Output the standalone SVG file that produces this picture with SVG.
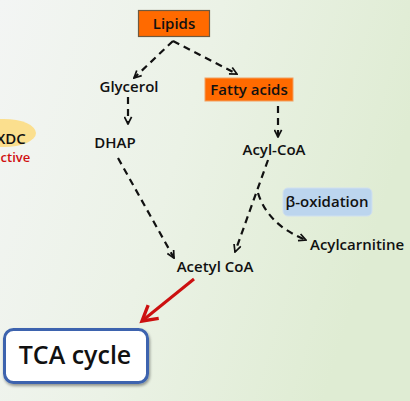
<svg xmlns="http://www.w3.org/2000/svg" width="410" height="401" viewBox="0 0 410 401">
<defs>
<linearGradient id="bg" x1="0" y1="0" x2="1" y2="0.3">
<stop offset="0" stop-color="#F3F5F4"/>
<stop offset="0.5" stop-color="#EBF2E6"/>
<stop offset="1" stop-color="#DFECD3"/>
</linearGradient>
<marker id="ah" viewBox="0 0 10 10" refX="9" refY="5" markerWidth="9" markerHeight="9" markerUnits="userSpaceOnUse" orient="auto">
<polyline points="1,1 9,5 1,9" fill="none" stroke="#111" stroke-width="1.9"/>
</marker>
<marker id="rh" viewBox="0 0 10 10" refX="8" refY="5" markerWidth="7" markerHeight="7" orient="auto">
<polyline points="1,1 8,5 1,9" fill="none" stroke="#CC1010" stroke-width="1.6"/>
</marker>
<filter id="sh" x="-10%" y="-20%" width="120%" height="140%">
<feGaussianBlur in="SourceAlpha" stdDeviation="1.5"/>
<feOffset dx="1" dy="2"/>
<feComponentTransfer><feFuncA type="linear" slope="0.4"/></feComponentTransfer>
<feMerge><feMergeNode/><feMergeNode in="SourceGraphic"/></feMerge>
</filter>
</defs>
<style>
text{font-family:"Open Sans","Noto Sans","DejaVu Sans",sans-serif;fill:#111;font-weight:600;}
.t{font-size:15px;text-anchor:middle;}
.d{fill:none;stroke:#111;stroke-width:2.2;stroke-dasharray:7 5;marker-end:url(#ah);}
</style>
<rect width="410" height="401" fill="url(#bg)"/>
<g id="xdc">
<ellipse cx="4" cy="133" rx="32" ry="14" fill="#FBDF8E"/>
<text x="-4" y="144" style="font-size:15px">XDC</text>
<text x="-7" y="162" style="font-size:13px;fill:#D01010">active</text>
</g>
<g id="connectors">
<path class="d" d="M173,41 L134,78"/>
<path class="d" d="M173,41 L237,74"/>
<path class="d" d="M128,97 L128,124"/>
<path class="d" d="M278,106 L278,137"/>
<path class="d" d="M118,158 L174,258"/>
<path class="d" d="M268,160 L235,252"/>
<path class="d" d="M258,193 Q268,225 306,240"/>
<path d="M194,279 L142,321" fill="none" stroke="#CC1010" stroke-width="3" marker-end="url(#rh)"/>
</g>
<g id="lipids">
<rect x="138.5" y="10.5" width="71" height="26" fill="#FF6A00" stroke="#6E5A40" stroke-width="1.2"/>
<text class="t" x="174" y="29" style="font-size:15px">Lipids</text>
</g>
<g id="glycerol">
<text class="t" x="129" y="92">Glycerol</text>
</g>
<g id="fattyacids">
<rect x="205" y="78" width="88" height="23" fill="#FF6A00" stroke="#F2A060" stroke-width="1"/>
<text class="t" x="249" y="95">Fatty acids</text>
</g>
<g id="dhap">
<text class="t" x="115" y="148">DHAP</text>
</g>
<g id="acylcoa">
<text class="t" x="274" y="155">Acyl-CoA</text>
</g>
<g id="betaox">
<rect x="283" y="188" width="89" height="28" rx="5" fill="#BCD5EE" stroke="#D0E0F0" stroke-width="1"/>
<text class="t" x="327" y="207">β-oxidation</text>
</g>
<g id="acylcarnitine">
<text x="310" y="250" style="font-size:15px">Acylcarnitine</text>
</g>
<g id="acetylcoa">
<text class="t" x="215" y="272">Acetyl CoA</text>
</g>
<g id="tca">
<rect x="4.5" y="329.5" width="143" height="53" rx="9" fill="#FFFFFF" stroke="#3C63AE" stroke-width="3" filter="url(#sh)"/>
<text class="t" x="75" y="364" style="font-size:25px">TCA cycle</text>
</g>
</svg>
